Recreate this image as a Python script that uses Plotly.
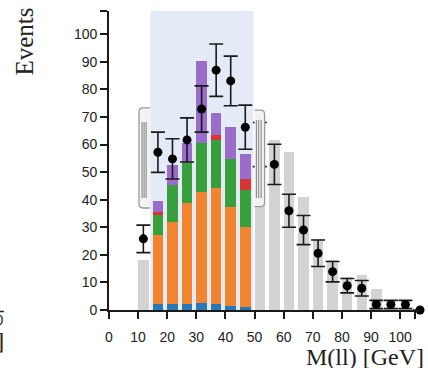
import numpy as np
import plotly.graph_objects as go

# ---------------- data ----------------
bin_starts_stack = [15, 20, 25, 30, 35, 40, 45]
blue_vals   = [2.0, 2.0, 2.0, 2.5, 2.0, 1.5, 1.0]
orange_vals = [25.2, 29.8, 36.7, 40.2, 42.1, 35.7, 29.0]
green_vals  = [7.3, 13.5, 14.5, 17.8, 17.6, 17.6, 13.5]
red_vals    = [1.0, 0.0, 0.0, 0.0, 1.8, 0.0, 3.9]
purple_vals = [4.0, 7.3, 7.3, 29.8, 8.1, 11.7, 9.1]

gray_bins = [10, 50, 55, 60, 65, 70, 75, 80, 85, 90]
gray_vals = [18.0, 65.0, 61.7, 57.2, 40.9, 25.8, 18.0, 12.0, 12.7, 7.5]

data_bins = [10, 15, 20, 25, 30, 35, 40, 45, 50, 55, 60, 65, 70, 75, 80, 85, 90, 95, 100, 105]
data_vals = [25.8, 57.2, 54.8, 61.7, 72.9, 87.0, 83.1, 66.3, 60.0, 52.8, 36.0, 29.0, 20.6, 13.9,
             8.8, 7.9, 2.0, 2.0, 2.0, 0.0]
data_errs = [5.0, 7.3, 7.3, 8.0, 8.4, 9.5, 9.0, 8.0, 8.0, 7.3, 6.0, 5.3, 4.8, 3.7,
             2.6, 2.8, 1.5, 1.5, 1.5, None]

x_ticks = [0, 10, 20, 30, 40, 50, 60, 70, 80, 90, 100]
y_ticks = [0, 10, 20, 30, 40, 50, 60, 70, 80, 90, 100]

# ---------------- style ----------------
BAR_W = 3.6
X_MAX = 106.8
Y_MAX = 108.45
C_BLUE, C_ORANGE, C_GREEN, C_RED, C_PURPLE = "#2b78b6", "#f0842f", "#37a03c", "#d83434", "#9a6dcb"
C_GRAY = "#d3d3d3"

fig = go.Figure()

fig.add_trace(go.Bar(x=gray_bins, y=gray_vals, width=BAR_W, offset=0,
                     marker=dict(color=C_GRAY, line=dict(width=0)), showlegend=False))
for vals, col in [(blue_vals, C_BLUE), (orange_vals, C_ORANGE), (green_vals, C_GREEN),
                  (red_vals, C_RED), (purple_vals, C_PURPLE)]:
    fig.add_trace(go.Bar(x=bin_starts_stack, y=vals, width=BAR_W, offset=0,
                         marker=dict(color=col, line=dict(width=0)), showlegend=False))

centers = np.array(data_bins, dtype=float) + BAR_W / 2
fig.add_trace(go.Scatter(
    x=centers, y=data_vals, mode="markers",
    marker=dict(color="black", size=9),
    error_y=dict(type="data", array=data_errs, color="#1a1a1a", thickness=1.6, width=7),
    cliponaxis=False, showlegend=False))

shapes = []
# shaded region
shapes.append(dict(type="rect", xref="x", yref="y", x0=14.2, x1=49.6, y0=0, y1=Y_MAX,
                   fillcolor="#e4ebf6", line=dict(width=0), layer="below"))

def bracket(x_open, x_round, y_top, y_bot, rx, ry, side):
    xr = x_round - side * rx
    body = (f"M {x_open},{y_top} L {xr},{y_top} Q {x_round},{y_top} {x_round},{y_top - ry} "
            f"L {x_round},{y_bot + ry} Q {x_round},{y_bot} {xr},{y_bot} L {x_open},{y_bot}")
    return [dict(type="path", xref="x", yref="y", path=body + " Z", fillcolor="#f3f3f3",
                 line=dict(width=0), layer="above"),
            dict(type="path", xref="x", yref="y", path=body,
                 line=dict(color="#9a9a9a", width=1.3), layer="above")]

shapes += bracket(14.07, 10.3, 73.3, 37.0, 1.3, 1.6, -1)
for xv in [11.35, 12.05, 12.75]:
    shapes.append(dict(type="line", xref="x", yref="y", x0=xv, x1=xv, y0=68.2, y1=40.6,
                       line=dict(color="#7a7a7a", width=1), layer="above"))
shapes += bracket(50.0, 53.43, 72.5, 37.5, 1.3, 1.6, +1)
for xv in [50.6, 51.4, 52.25]:
    shapes.append(dict(type="line", xref="x", yref="y", x0=xv, x1=xv, y0=68.9, y1=40.6,
                       line=dict(color="#7a7a7a", width=1), layer="above"))
# fragment of neighbouring panel's axis at far left
shapes.append(dict(type="line", xref="paper", yref="paper", x0=-0.36, x1=-0.338,
                   y0=-0.005, y1=-0.005, line=dict(color="#222", width=1.5)))

annotations = [
    dict(text="Events", xref="paper", yref="paper", x=-0.273, y=0.898, textangle=-90,
         showarrow=False, xanchor="center", yanchor="middle",
         font=dict(family="Liberation Serif", size=25, color="#222")),
    dict(text="M(ll) [GeV]", xref="paper", yref="paper", x=1.018, y=-0.157,
         showarrow=False, xanchor="right", yanchor="middle",
         font=dict(family="Liberation Serif", size=24, color="#222")),
    dict(text="100", xref="paper", yref="paper", x=-0.330, y=-0.035,
         showarrow=False, xanchor="right", yanchor="middle",
         font=dict(family="Liberation Sans", size=14, color="#222")),
    dict(text="[GeV]", xref="paper", yref="paper", x=-0.330, y=-0.105,
         showarrow=False, xanchor="right", yanchor="middle",
         font=dict(family="Liberation Serif", size=24, color="#222")),
]

axis_common = dict(showgrid=False, zeroline=False, showline=True, linecolor="#1a1a1a",
                   linewidth=1.8, ticks="outside", ticklen=7, tickwidth=1.8, tickcolor="#1a1a1a",
                   tickfont=dict(family="Liberation Sans", size=14, color="#222"),
                   automargin=False)

fig.update_layout(
    width=428, height=368, autosize=False,
    margin=dict(l=109, r=8, t=11, b=58, pad=0),
    barmode="stack", bargap=0,
    paper_bgcolor="white", plot_bgcolor="white",
    shapes=shapes, annotations=annotations,
    xaxis=dict(range=[0, X_MAX], tickmode="array", tickvals=x_ticks + [105],
               ticktext=[str(t) for t in x_ticks] + [""], ticklabelstandoff=6, **axis_common),
    yaxis=dict(range=[0, Y_MAX], tickmode="array", tickvals=y_ticks + [Y_MAX],
               ticktext=[str(t) for t in y_ticks] + [""], **axis_common),
)

fig.write_html("out.html", config={"displayModeBar": False},
               post_script="document.body.style.margin='0px';document.body.style.overflow='hidden';")
